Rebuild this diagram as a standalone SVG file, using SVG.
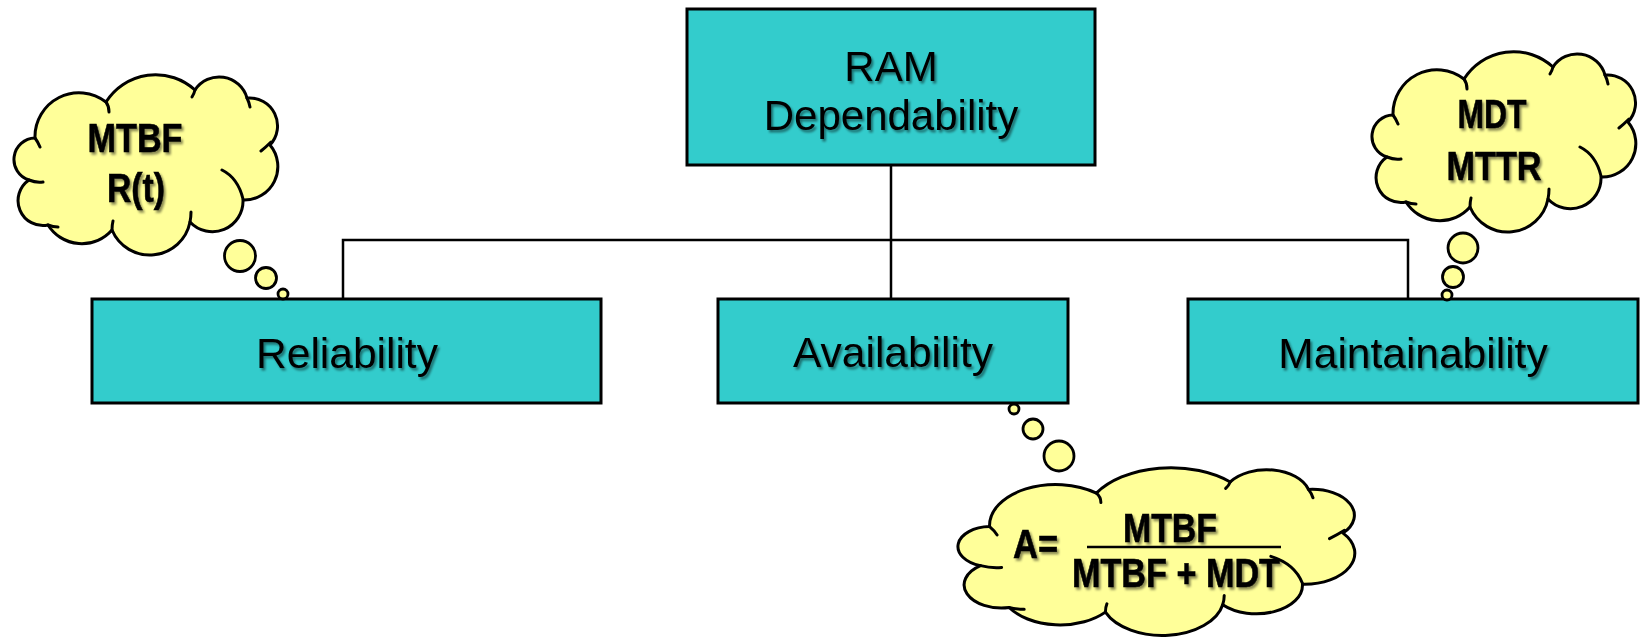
<svg xmlns="http://www.w3.org/2000/svg" xmlns:xlink="http://www.w3.org/1999/xlink" width="1640" height="639" viewBox="0 0 1640 639">
<style>
.box{fill:#33CCCC;stroke:#000;stroke-width:3}
.cl{fill:#FFFF99;stroke:#000;stroke-width:3;vector-effect:non-scaling-stroke;stroke-linejoin:round}
.inner{fill:none;stroke:#000;stroke-width:3;vector-effect:non-scaling-stroke;stroke-linecap:round}
.bub{fill:#FFFF99;stroke:#000;stroke-width:2.8}
.con{fill:none;stroke:#000;stroke-width:2.5}
.t{font-family:"Liberation Sans",Arial,sans-serif;font-size:42px;fill:#000;text-anchor:middle;filter:url(#sh)}
.b{font-family:"Liberation Sans Narrow","Liberation Sans",Arial,sans-serif;font-size:41px;font-weight:bold;fill:#000;stroke:#000;stroke-width:0.6;text-anchor:middle;filter:url(#sh)}
</style>
<defs>
<filter id="sh" x="-10%" y="-20%" width="130%" height="150%">
<feDropShadow dx="2" dy="2.5" stdDeviation="1.3" flood-color="#000" flood-opacity="0.45"/>
</filter>
<g id="cloud">
<path class="cl" d="M17,105 A21.5,21.5 0 0 1 23,63 A44,44 0 0 1 94,27 A58.5,58.5 0 0 1 183,15 A28.9,28.9 0 0 1 235,23 A28,28 0 0 1 258,70 A33.5,33.5 0 0 1 231,125 A30.6,30.6 0 0 1 178,147 A41,41 0 0 1 100,155 A40,40 0 0 1 36,150 A24.9,24.9 0 0 1 17,105 Z"/>
<path class="inner" d="M17,105 Q24,108 31,107 M23,63 Q26,67 28,72 M94,27 Q97,31 97,37 M183,15 Q182,19 180,22 M235,23 Q237,27 238,32 M259,67 Q254,72 249,76 M210,95 Q226,103 231,124 M178,147 Q179,142 179,137 M100,155 Q100,150 101,146 M36,150 Q41,152 46,152"/>
</g>
</defs>

<g id="connectors">
<path class="con" d="M891,165 V240 M343,299 V240 H1408 V299 M891,240 V299"/>
</g>

<g id="ram">
<rect class="box" x="687" y="9" width="408" height="156"/>
<text class="t" x="891" y="81">RAM</text>
<text class="t" x="891" y="130">Dependability</text>
</g>

<g id="reliability">
<rect class="box" x="92" y="299" width="509" height="104"/>
<text class="t" x="347" y="368" style="font-size:42.5px">Reliability</text>
</g>

<g id="availability">
<rect class="box" x="718" y="299" width="350" height="104"/>
<text class="t" x="893" y="367" style="font-size:42.5px">Availability</text>
</g>

<g id="maintainability">
<rect class="box" x="1188" y="299" width="450" height="104"/>
<text class="t" x="1413" y="368" style="font-size:42.5px">Maintainability</text>
</g>

<g id="cloud-reliability">
<use xlink:href="#cloud" href="#cloud" transform="translate(12,75)"/>
<circle class="bub" cx="240" cy="256" r="15.5"/>
<circle class="bub" cx="266" cy="278" r="10.5"/>
<circle class="bub" cx="283" cy="294" r="5"/>
<text class="b" x="135" y="152" textLength="95" lengthAdjust="spacingAndGlyphs">MTBF</text>
<text class="b" x="136" y="202" textLength="58" lengthAdjust="spacingAndGlyphs">R(t)</text>
</g>

<g id="cloud-maintainability">
<use xlink:href="#cloud" href="#cloud" transform="translate(1370,52)"/>
<circle class="bub" cx="1463" cy="248" r="15"/>
<circle class="bub" cx="1453" cy="277" r="10.5"/>
<circle class="bub" cx="1447" cy="295" r="5"/>
<text class="b" x="1492" y="128" textLength="69" lengthAdjust="spacingAndGlyphs">MDT</text>
<text class="b" x="1494" y="180" textLength="95" lengthAdjust="spacingAndGlyphs">MTTR</text>
</g>

<g id="cloud-availability">
<circle class="bub" cx="1014" cy="409" r="5"/>
<circle class="bub" cx="1033" cy="429" r="10"/>
<circle class="bub" cx="1059" cy="456" r="15"/>
<use xlink:href="#cloud" href="#cloud" transform="translate(955,468) scale(1.504,0.93)"/>
<text class="b" x="1013" y="558" textLength="45" lengthAdjust="spacingAndGlyphs" style="text-anchor:start">A=</text>
<text class="b" x="1170" y="542" textLength="94" lengthAdjust="spacingAndGlyphs">MTBF</text>
<line x1="1087" y1="547" x2="1281" y2="547" stroke="#000" stroke-width="2.5"/>
<text class="b" x="1072" y="587" textLength="208" lengthAdjust="spacingAndGlyphs" style="text-anchor:start">MTBF + MDT</text>
</g>
</svg>
